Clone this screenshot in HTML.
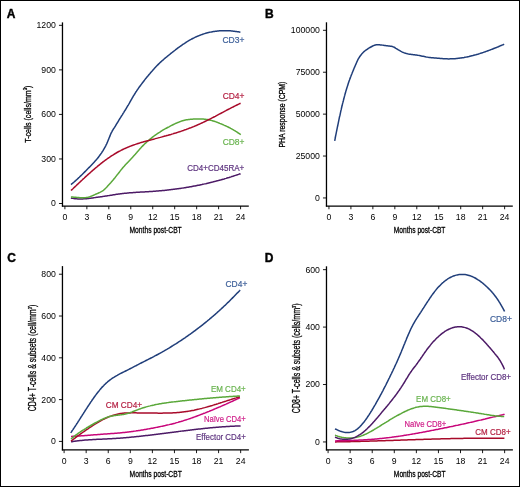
<!DOCTYPE html>
<html><head><meta charset="utf-8"><style>
html,body{margin:0;padding:0;background:#fff;}
svg{display:block;font-family:"Liberation Sans", sans-serif;will-change:transform;}
.t{font-weight:normal;stroke:#000;stroke-width:0.3px;}
</style></head><body>
<svg width="520" height="487" viewBox="0 0 520 487">
<rect x="0.5" y="0.5" width="519" height="486" fill="#fff" stroke="#000" stroke-width="1"/>
<line x1="62.47" y1="22.37" x2="62.47" y2="206.60" stroke="#000" stroke-width="1.3"/>
<line x1="61.92" y1="206.05" x2="248.80" y2="206.05" stroke="#000" stroke-width="1.3"/>
<line x1="64.90" y1="206.05" x2="64.90" y2="209.25" stroke="#000" stroke-width="0.9"/>
<text x="64.90" y="219.85" font-size="8.7" text-anchor="middle" fill="#000" >0</text>
<line x1="86.86" y1="206.05" x2="86.86" y2="209.25" stroke="#000" stroke-width="0.9"/>
<text x="86.86" y="219.85" font-size="8.7" text-anchor="middle" fill="#000" >3</text>
<line x1="108.82" y1="206.05" x2="108.82" y2="209.25" stroke="#000" stroke-width="0.9"/>
<text x="108.82" y="219.85" font-size="8.7" text-anchor="middle" fill="#000" >6</text>
<line x1="130.78" y1="206.05" x2="130.78" y2="209.25" stroke="#000" stroke-width="0.9"/>
<text x="130.78" y="219.85" font-size="8.7" text-anchor="middle" fill="#000" >9</text>
<line x1="152.74" y1="206.05" x2="152.74" y2="209.25" stroke="#000" stroke-width="0.9"/>
<text x="152.74" y="219.85" font-size="8.7" text-anchor="middle" fill="#000" >12</text>
<line x1="174.70" y1="206.05" x2="174.70" y2="209.25" stroke="#000" stroke-width="0.9"/>
<text x="174.70" y="219.85" font-size="8.7" text-anchor="middle" fill="#000" >15</text>
<line x1="196.66" y1="206.05" x2="196.66" y2="209.25" stroke="#000" stroke-width="0.9"/>
<text x="196.66" y="219.85" font-size="8.7" text-anchor="middle" fill="#000" >18</text>
<line x1="218.62" y1="206.05" x2="218.62" y2="209.25" stroke="#000" stroke-width="0.9"/>
<text x="218.62" y="219.85" font-size="8.7" text-anchor="middle" fill="#000" >21</text>
<line x1="240.58" y1="206.05" x2="240.58" y2="209.25" stroke="#000" stroke-width="0.9"/>
<text x="240.58" y="219.85" font-size="8.7" text-anchor="middle" fill="#000" >24</text>
<line x1="58.97" y1="203.50" x2="62.47" y2="203.50" stroke="#000" stroke-width="0.9"/>
<text x="55.87" y="206.40" font-size="8.7" text-anchor="end" fill="#000" >0</text>
<line x1="58.97" y1="158.96" x2="62.47" y2="158.96" stroke="#000" stroke-width="0.9"/>
<text x="55.87" y="161.86" font-size="8.7" text-anchor="end" fill="#000" >300</text>
<line x1="58.97" y1="114.42" x2="62.47" y2="114.42" stroke="#000" stroke-width="0.9"/>
<text x="55.87" y="117.32" font-size="8.7" text-anchor="end" fill="#000" >600</text>
<line x1="58.97" y1="69.88" x2="62.47" y2="69.88" stroke="#000" stroke-width="0.9"/>
<text x="55.87" y="72.78" font-size="8.7" text-anchor="end" fill="#000" >900</text>
<line x1="58.97" y1="25.34" x2="62.47" y2="25.34" stroke="#000" stroke-width="0.9"/>
<text x="55.87" y="28.24" font-size="8.7" text-anchor="end" fill="#000" >1200</text>
<text transform="translate(30.5,114.2) rotate(-90) scale(0.7748,1)" x="0" y="0" font-size="9.1" text-anchor="middle" class="t">T-cells (cells/mm<tspan font-size="5.5" dy="-3.2">3</tspan><tspan dy="3.2">)</tspan></text>
<text transform="translate(155.63,232.7) scale(0.7147,1)" x="0" y="0" font-size="9.4" text-anchor="middle" class="t">Months post-CBT</text>
<text x="6.8" y="17.7" font-size="12" font-weight="bold" stroke="#000" stroke-width="0.4">A</text>
<line x1="326.47" y1="22.30" x2="326.47" y2="206.60" stroke="#000" stroke-width="1.3"/>
<line x1="325.92" y1="206.05" x2="512.80" y2="206.05" stroke="#000" stroke-width="1.3"/>
<line x1="328.95" y1="206.05" x2="328.95" y2="209.25" stroke="#000" stroke-width="0.9"/>
<text x="328.95" y="219.85" font-size="8.7" text-anchor="middle" fill="#000" >0</text>
<line x1="350.91" y1="206.05" x2="350.91" y2="209.25" stroke="#000" stroke-width="0.9"/>
<text x="350.91" y="219.85" font-size="8.7" text-anchor="middle" fill="#000" >3</text>
<line x1="372.87" y1="206.05" x2="372.87" y2="209.25" stroke="#000" stroke-width="0.9"/>
<text x="372.87" y="219.85" font-size="8.7" text-anchor="middle" fill="#000" >6</text>
<line x1="394.83" y1="206.05" x2="394.83" y2="209.25" stroke="#000" stroke-width="0.9"/>
<text x="394.83" y="219.85" font-size="8.7" text-anchor="middle" fill="#000" >9</text>
<line x1="416.79" y1="206.05" x2="416.79" y2="209.25" stroke="#000" stroke-width="0.9"/>
<text x="416.79" y="219.85" font-size="8.7" text-anchor="middle" fill="#000" >12</text>
<line x1="438.75" y1="206.05" x2="438.75" y2="209.25" stroke="#000" stroke-width="0.9"/>
<text x="438.75" y="219.85" font-size="8.7" text-anchor="middle" fill="#000" >15</text>
<line x1="460.71" y1="206.05" x2="460.71" y2="209.25" stroke="#000" stroke-width="0.9"/>
<text x="460.71" y="219.85" font-size="8.7" text-anchor="middle" fill="#000" >18</text>
<line x1="482.67" y1="206.05" x2="482.67" y2="209.25" stroke="#000" stroke-width="0.9"/>
<text x="482.67" y="219.85" font-size="8.7" text-anchor="middle" fill="#000" >21</text>
<line x1="504.63" y1="206.05" x2="504.63" y2="209.25" stroke="#000" stroke-width="0.9"/>
<text x="504.63" y="219.85" font-size="8.7" text-anchor="middle" fill="#000" >24</text>
<line x1="322.97" y1="197.95" x2="326.47" y2="197.95" stroke="#000" stroke-width="0.9"/>
<text x="319.87" y="200.85" font-size="8.7" text-anchor="end" fill="#000" >0</text>
<line x1="322.97" y1="156.04" x2="326.47" y2="156.04" stroke="#000" stroke-width="0.9"/>
<text x="319.87" y="158.94" font-size="8.7" text-anchor="end" fill="#000" >25000</text>
<line x1="322.97" y1="114.13" x2="326.47" y2="114.13" stroke="#000" stroke-width="0.9"/>
<text x="319.87" y="117.03" font-size="8.7" text-anchor="end" fill="#000" >50000</text>
<line x1="322.97" y1="72.22" x2="326.47" y2="72.22" stroke="#000" stroke-width="0.9"/>
<text x="319.87" y="75.12" font-size="8.7" text-anchor="end" fill="#000" >75000</text>
<line x1="322.97" y1="30.31" x2="326.47" y2="30.31" stroke="#000" stroke-width="0.9"/>
<text x="319.87" y="33.21" font-size="8.7" text-anchor="end" fill="#000" >100000</text>
<text transform="translate(284.9,114.6) rotate(-90) scale(0.8015,1)" x="0" y="0" font-size="8.6" text-anchor="middle" class="t">PHA response (CPM)</text>
<text transform="translate(419.63,232.7) scale(0.7064,1)" x="0" y="0" font-size="9.4" text-anchor="middle" class="t">Months post-CBT</text>
<text x="265.0" y="17.6" font-size="12" font-weight="bold" stroke="#000" stroke-width="0.4">B</text>
<line x1="62.45" y1="266.10" x2="62.45" y2="450.50" stroke="#000" stroke-width="1.3"/>
<line x1="61.90" y1="449.95" x2="248.90" y2="449.95" stroke="#000" stroke-width="1.3"/>
<line x1="64.10" y1="449.95" x2="64.10" y2="453.15" stroke="#000" stroke-width="0.9"/>
<text x="64.10" y="463.75" font-size="8.7" text-anchor="middle" fill="#000" >0</text>
<line x1="86.17" y1="449.95" x2="86.17" y2="453.15" stroke="#000" stroke-width="0.9"/>
<text x="86.17" y="463.75" font-size="8.7" text-anchor="middle" fill="#000" >3</text>
<line x1="108.24" y1="449.95" x2="108.24" y2="453.15" stroke="#000" stroke-width="0.9"/>
<text x="108.24" y="463.75" font-size="8.7" text-anchor="middle" fill="#000" >6</text>
<line x1="130.31" y1="449.95" x2="130.31" y2="453.15" stroke="#000" stroke-width="0.9"/>
<text x="130.31" y="463.75" font-size="8.7" text-anchor="middle" fill="#000" >9</text>
<line x1="152.38" y1="449.95" x2="152.38" y2="453.15" stroke="#000" stroke-width="0.9"/>
<text x="152.38" y="463.75" font-size="8.7" text-anchor="middle" fill="#000" >12</text>
<line x1="174.45" y1="449.95" x2="174.45" y2="453.15" stroke="#000" stroke-width="0.9"/>
<text x="174.45" y="463.75" font-size="8.7" text-anchor="middle" fill="#000" >15</text>
<line x1="196.52" y1="449.95" x2="196.52" y2="453.15" stroke="#000" stroke-width="0.9"/>
<text x="196.52" y="463.75" font-size="8.7" text-anchor="middle" fill="#000" >18</text>
<line x1="218.59" y1="449.95" x2="218.59" y2="453.15" stroke="#000" stroke-width="0.9"/>
<text x="218.59" y="463.75" font-size="8.7" text-anchor="middle" fill="#000" >21</text>
<line x1="240.66" y1="449.95" x2="240.66" y2="453.15" stroke="#000" stroke-width="0.9"/>
<text x="240.66" y="463.75" font-size="8.7" text-anchor="middle" fill="#000" >24</text>
<line x1="58.95" y1="441.42" x2="62.45" y2="441.42" stroke="#000" stroke-width="0.9"/>
<text x="55.85" y="444.32" font-size="8.7" text-anchor="end" fill="#000" >0</text>
<line x1="58.95" y1="399.62" x2="62.45" y2="399.62" stroke="#000" stroke-width="0.9"/>
<text x="55.85" y="402.52" font-size="8.7" text-anchor="end" fill="#000" >200</text>
<line x1="58.95" y1="357.82" x2="62.45" y2="357.82" stroke="#000" stroke-width="0.9"/>
<text x="55.85" y="360.72" font-size="8.7" text-anchor="end" fill="#000" >400</text>
<line x1="58.95" y1="316.02" x2="62.45" y2="316.02" stroke="#000" stroke-width="0.9"/>
<text x="55.85" y="318.92" font-size="8.7" text-anchor="end" fill="#000" >600</text>
<line x1="58.95" y1="274.22" x2="62.45" y2="274.22" stroke="#000" stroke-width="0.9"/>
<text x="55.85" y="277.12" font-size="8.7" text-anchor="end" fill="#000" >800</text>
<text transform="translate(35.5,358.0) rotate(-90) scale(0.7068,1)" x="0" y="0" font-size="10" text-anchor="middle" class="t">CD4+ T-cells &amp; subsets (cell/mm<tspan font-size="5.5" dy="-3.2">3</tspan><tspan dy="3.2">)</tspan></text>
<text transform="translate(155.68,476.7) scale(0.7161,1)" x="0" y="0" font-size="9.4" text-anchor="middle" class="t">Months post-CBT</text>
<text x="7.2" y="262.3" font-size="12" font-weight="bold" stroke="#000" stroke-width="0.4">C</text>
<line x1="326.48" y1="266.30" x2="326.48" y2="450.51" stroke="#000" stroke-width="1.3"/>
<line x1="325.93" y1="449.96" x2="512.90" y2="449.96" stroke="#000" stroke-width="1.3"/>
<line x1="328.08" y1="449.96" x2="328.08" y2="453.16" stroke="#000" stroke-width="0.9"/>
<text x="328.08" y="463.76" font-size="8.7" text-anchor="middle" fill="#000" >0</text>
<line x1="350.15" y1="449.96" x2="350.15" y2="453.16" stroke="#000" stroke-width="0.9"/>
<text x="350.15" y="463.76" font-size="8.7" text-anchor="middle" fill="#000" >3</text>
<line x1="372.22" y1="449.96" x2="372.22" y2="453.16" stroke="#000" stroke-width="0.9"/>
<text x="372.22" y="463.76" font-size="8.7" text-anchor="middle" fill="#000" >6</text>
<line x1="394.29" y1="449.96" x2="394.29" y2="453.16" stroke="#000" stroke-width="0.9"/>
<text x="394.29" y="463.76" font-size="8.7" text-anchor="middle" fill="#000" >9</text>
<line x1="416.36" y1="449.96" x2="416.36" y2="453.16" stroke="#000" stroke-width="0.9"/>
<text x="416.36" y="463.76" font-size="8.7" text-anchor="middle" fill="#000" >12</text>
<line x1="438.43" y1="449.96" x2="438.43" y2="453.16" stroke="#000" stroke-width="0.9"/>
<text x="438.43" y="463.76" font-size="8.7" text-anchor="middle" fill="#000" >15</text>
<line x1="460.50" y1="449.96" x2="460.50" y2="453.16" stroke="#000" stroke-width="0.9"/>
<text x="460.50" y="463.76" font-size="8.7" text-anchor="middle" fill="#000" >18</text>
<line x1="482.57" y1="449.96" x2="482.57" y2="453.16" stroke="#000" stroke-width="0.9"/>
<text x="482.57" y="463.76" font-size="8.7" text-anchor="middle" fill="#000" >21</text>
<line x1="504.64" y1="449.96" x2="504.64" y2="453.16" stroke="#000" stroke-width="0.9"/>
<text x="504.64" y="463.76" font-size="8.7" text-anchor="middle" fill="#000" >24</text>
<line x1="322.98" y1="441.95" x2="326.48" y2="441.95" stroke="#000" stroke-width="0.9"/>
<text x="319.88" y="444.85" font-size="8.7" text-anchor="end" fill="#000" >0</text>
<line x1="322.98" y1="384.52" x2="326.48" y2="384.52" stroke="#000" stroke-width="0.9"/>
<text x="319.88" y="387.42" font-size="8.7" text-anchor="end" fill="#000" >200</text>
<line x1="322.98" y1="327.09" x2="326.48" y2="327.09" stroke="#000" stroke-width="0.9"/>
<text x="319.88" y="329.99" font-size="8.7" text-anchor="end" fill="#000" >400</text>
<line x1="322.98" y1="269.66" x2="326.48" y2="269.66" stroke="#000" stroke-width="0.9"/>
<text x="319.88" y="272.56" font-size="8.7" text-anchor="end" fill="#000" >600</text>
<text transform="translate(299.5,358.3) rotate(-90) scale(0.7034,1)" x="0" y="0" font-size="10" text-anchor="middle" class="t">CD8+ T-cells &amp; subsets (cells/mm<tspan font-size="5.5" dy="-3.2">3</tspan><tspan dy="3.2">)</tspan></text>
<text transform="translate(419.69,476.6) scale(0.7078,1)" x="0" y="0" font-size="9.4" text-anchor="middle" class="t">Months post-CBT</text>
<text x="264.8" y="261.9" font-size="12" font-weight="bold" stroke="#000" stroke-width="0.4">D</text>
<path d="M70.9 197.98 L71.9 198.19 L72.9 198.37 L73.8 198.53 L74.8 198.66 L75.8 198.77 L76.8 198.85 L77.8 198.91 L78.8 198.95 L79.8 198.97 L80.8 198.97 L81.8 198.95 L82.8 198.92 L83.8 198.86 L84.8 198.80 L85.8 198.72 L86.8 198.63 L87.8 198.53 L88.8 198.42 L89.8 198.30 L90.8 198.17 L91.8 198.04 L92.8 197.90 L93.8 197.76 L94.7 197.62 L95.7 197.48 L96.7 197.34 L97.7 197.20 L98.7 197.06 L99.7 196.92 L100.7 196.78 L101.7 196.64 L102.7 196.50 L103.7 196.36 L104.6 196.21 L105.6 196.07 L106.6 195.92 L107.6 195.77 L108.6 195.62 L109.6 195.47 L110.6 195.31 L111.6 195.14 L112.5 194.98 L113.5 194.81 L114.5 194.65 L115.5 194.49 L116.5 194.34 L117.5 194.19 L118.5 194.05 L119.5 193.92 L120.5 193.79 L121.4 193.67 L122.4 193.55 L123.4 193.44 L124.4 193.34 L125.4 193.23 L126.4 193.14 L127.4 193.05 L128.4 192.96 L129.4 192.87 L130.4 192.79 L131.4 192.71 L132.4 192.64 L133.4 192.57 L134.4 192.50 L135.4 192.43 L136.4 192.36 L137.4 192.30 L138.4 192.24 L139.4 192.18 L140.4 192.12 L141.4 192.06 L142.4 192.00 L143.4 191.94 L144.4 191.89 L145.4 191.83 L146.4 191.77 L147.4 191.71 L148.4 191.65 L149.4 191.59 L150.4 191.52 L151.4 191.46 L152.4 191.39 L153.4 191.32 L154.4 191.25 L155.3 191.17 L156.3 191.09 L157.3 191.01 L158.3 190.93 L159.3 190.84 L160.3 190.76 L161.3 190.66 L162.3 190.57 L163.3 190.47 L164.3 190.38 L165.3 190.27 L166.3 190.17 L167.3 190.06 L168.3 189.95 L169.3 189.84 L170.3 189.73 L171.3 189.61 L172.3 189.49 L173.3 189.36 L174.3 189.24 L175.2 189.11 L176.2 188.98 L177.2 188.84 L178.2 188.70 L179.2 188.56 L180.2 188.42 L181.2 188.27 L182.2 188.13 L183.2 187.97 L184.2 187.82 L185.1 187.66 L186.1 187.50 L187.1 187.34 L188.1 187.17 L189.1 187.00 L190.1 186.83 L191.1 186.66 L192.0 186.48 L193.0 186.30 L194.0 186.11 L195.0 185.93 L196.0 185.74 L197.0 185.54 L197.9 185.35 L198.9 185.15 L199.9 184.95 L200.9 184.74 L201.9 184.53 L202.8 184.32 L203.8 184.11 L204.8 183.89 L205.8 183.67 L206.7 183.45 L207.7 183.22 L208.7 183.00 L209.7 182.76 L210.6 182.53 L211.6 182.29 L212.6 182.05 L213.5 181.81 L214.5 181.56 L215.5 181.31 L216.4 181.05 L217.4 180.80 L218.4 180.54 L219.3 180.28 L220.3 180.01 L221.3 179.74 L222.2 179.47 L223.2 179.19 L224.2 178.92 L225.1 178.64 L226.1 178.35 L227.0 178.06 L228.0 177.77 L229.0 177.48 L229.9 177.18 L230.9 176.88 L231.8 176.58 L232.8 176.28 L233.7 175.97 L234.7 175.65 L235.6 175.34 L236.6 175.02 L237.5 174.70 L238.5 174.38 L239.4 174.05 L240.4 173.72 L240.4 173.70" fill="none" stroke="#4c1a66" stroke-width="1.5" stroke-linejoin="round"/>
<path d="M70.9 196.91 L71.9 196.97 L72.9 197.06 L73.9 197.15 L74.9 197.24 L75.9 197.34 L76.9 197.44 L77.9 197.53 L78.9 197.61 L79.9 197.67 L80.9 197.72 L81.9 197.74 L82.9 197.75 L83.9 197.72 L84.9 197.65 L85.9 197.55 L86.9 197.41 L87.8 197.23 L88.8 196.99 L89.8 196.72 L90.7 196.39 L91.7 196.03 L92.6 195.63 L93.5 195.23 L94.4 194.81 L95.3 194.39 L96.2 193.98 L97.2 193.58 L98.1 193.20 L99.0 192.81 L99.9 192.40 L100.8 191.95 L101.7 191.45 L102.6 190.89 L103.4 190.28 L104.2 189.62 L104.9 188.93 L105.6 188.23 L106.4 187.51 L107.1 186.78 L107.7 186.06 L108.4 185.32 L109.1 184.59 L109.8 183.85 L110.5 183.10 L111.1 182.35 L111.8 181.59 L112.4 180.82 L113.1 180.05 L113.7 179.27 L114.3 178.49 L115.0 177.71 L115.6 176.92 L116.2 176.13 L116.8 175.34 L117.4 174.55 L118.1 173.76 L118.7 172.97 L119.3 172.18 L119.9 171.40 L120.5 170.62 L121.1 169.84 L121.8 169.07 L122.4 168.31 L123.0 167.55 L123.7 166.80 L124.4 166.05 L125.0 165.31 L125.7 164.58 L126.4 163.85 L127.1 163.12 L127.7 162.40 L128.4 161.67 L129.1 160.95 L129.8 160.23 L130.5 159.50 L131.2 158.78 L131.9 158.05 L132.6 157.31 L133.2 156.58 L133.9 155.83 L134.6 155.09 L135.3 154.33 L135.9 153.57 L136.6 152.81 L137.2 152.05 L137.9 151.29 L138.5 150.54 L139.2 149.78 L139.8 149.03 L140.5 148.29 L141.2 147.55 L141.8 146.83 L142.5 146.11 L143.2 145.39 L143.9 144.69 L144.6 143.99 L145.3 143.31 L146.1 142.62 L146.8 141.95 L147.5 141.29 L148.3 140.63 L149.0 139.98 L149.8 139.34 L150.6 138.71 L151.4 138.08 L152.1 137.47 L152.9 136.86 L153.7 136.26 L154.5 135.67 L155.3 135.08 L156.1 134.51 L157.0 133.94 L157.8 133.38 L158.6 132.83 L159.5 132.29 L160.3 131.76 L161.1 131.23 L162.0 130.71 L162.8 130.20 L163.7 129.69 L164.6 129.20 L165.4 128.70 L166.3 128.22 L167.2 127.74 L168.1 127.27 L169.0 126.80 L169.8 126.34 L170.7 125.88 L171.6 125.43 L172.5 124.98 L173.4 124.54 L174.3 124.10 L175.2 123.67 L176.1 123.26 L177.0 122.85 L177.9 122.46 L178.9 122.08 L179.8 121.72 L180.7 121.38 L181.7 121.06 L182.6 120.77 L183.6 120.49 L184.5 120.25 L185.5 120.03 L186.5 119.84 L187.5 119.67 L188.5 119.52 L189.5 119.40 L190.4 119.29 L191.4 119.21 L192.4 119.13 L193.4 119.08 L194.4 119.03 L195.4 118.99 L196.4 118.96 L197.4 118.94 L198.4 118.93 L199.4 118.93 L200.4 118.94 L201.4 118.97 L202.4 119.01 L203.4 119.08 L204.4 119.16 L205.4 119.26 L206.4 119.39 L207.4 119.54 L208.4 119.72 L209.4 119.92 L210.4 120.15 L211.3 120.40 L212.3 120.67 L213.2 120.95 L214.2 121.26 L215.2 121.58 L216.1 121.91 L217.0 122.25 L218.0 122.61 L218.9 122.97 L219.8 123.35 L220.8 123.73 L221.7 124.11 L222.6 124.51 L223.5 124.91 L224.4 125.32 L225.4 125.74 L226.3 126.16 L227.2 126.60 L228.1 127.04 L229.0 127.49 L229.9 127.95 L230.7 128.42 L231.6 128.90 L232.5 129.39 L233.4 129.88 L234.2 130.39 L235.1 130.91 L235.9 131.43 L236.8 131.97 L237.6 132.51 L238.5 133.06 L239.3 133.63 L240.1 134.20 L240.8 134.67" fill="none" stroke="#5aa83a" stroke-width="1.5" stroke-linejoin="round"/>
<path d="M71.0 190.59 L71.7 189.90 L72.4 189.20 L73.2 188.51 L73.9 187.82 L74.6 187.13 L75.3 186.44 L76.1 185.75 L76.8 185.06 L77.5 184.37 L78.2 183.68 L78.9 182.99 L79.7 182.31 L80.4 181.62 L81.1 180.94 L81.9 180.25 L82.6 179.57 L83.3 178.89 L84.1 178.21 L84.8 177.53 L85.5 176.86 L86.3 176.18 L87.0 175.51 L87.7 174.84 L88.5 174.17 L89.2 173.50 L90.0 172.84 L90.7 172.17 L91.5 171.51 L92.2 170.86 L93.0 170.20 L93.7 169.55 L94.5 168.90 L95.2 168.25 L96.0 167.61 L96.8 166.97 L97.5 166.33 L98.3 165.69 L99.1 165.06 L99.9 164.44 L100.6 163.81 L101.4 163.20 L102.2 162.58 L103.0 161.97 L103.8 161.37 L104.6 160.77 L105.4 160.17 L106.2 159.58 L107.0 159.00 L107.8 158.42 L108.6 157.84 L109.5 157.28 L110.3 156.72 L111.1 156.16 L111.9 155.62 L112.8 155.08 L113.6 154.54 L114.5 154.02 L115.3 153.50 L116.2 153.00 L117.0 152.50 L117.9 152.01 L118.8 151.53 L119.7 151.06 L120.6 150.60 L121.4 150.15 L122.3 149.71 L123.2 149.27 L124.1 148.85 L125.0 148.43 L126.0 148.03 L126.9 147.63 L127.8 147.24 L128.7 146.86 L129.6 146.49 L130.6 146.12 L131.5 145.77 L132.4 145.42 L133.4 145.08 L134.3 144.74 L135.3 144.41 L136.2 144.09 L137.2 143.78 L138.1 143.47 L139.1 143.17 L140.0 142.88 L141.0 142.59 L141.9 142.30 L142.9 142.02 L143.8 141.74 L144.8 141.47 L145.8 141.20 L146.7 140.94 L147.7 140.68 L148.7 140.42 L149.6 140.16 L150.6 139.90 L151.6 139.65 L152.5 139.40 L153.5 139.15 L154.5 138.90 L155.4 138.65 L156.4 138.39 L157.4 138.14 L158.3 137.89 L159.3 137.64 L160.3 137.38 L161.2 137.12 L162.2 136.86 L163.2 136.60 L164.1 136.34 L165.1 136.07 L166.1 135.80 L167.0 135.53 L168.0 135.26 L168.9 134.98 L169.9 134.70 L170.9 134.42 L171.8 134.14 L172.8 133.85 L173.7 133.56 L174.7 133.27 L175.7 132.97 L176.6 132.67 L177.6 132.36 L178.5 132.06 L179.5 131.75 L180.4 131.43 L181.4 131.11 L182.3 130.79 L183.3 130.46 L184.2 130.13 L185.1 129.80 L186.1 129.46 L187.0 129.12 L188.0 128.77 L188.9 128.42 L189.8 128.06 L190.8 127.70 L191.7 127.34 L192.6 126.97 L193.6 126.59 L194.5 126.21 L195.4 125.83 L196.3 125.44 L197.3 125.05 L198.2 124.65 L199.1 124.24 L200.0 123.84 L200.9 123.42 L201.8 123.00 L202.7 122.58 L203.6 122.15 L204.5 121.72 L205.4 121.29 L206.3 120.85 L207.2 120.40 L208.1 119.96 L209.0 119.51 L209.9 119.05 L210.8 118.60 L211.7 118.14 L212.6 117.68 L213.5 117.22 L214.4 116.76 L215.3 116.29 L216.1 115.83 L217.0 115.36 L217.9 114.89 L218.8 114.42 L219.7 113.95 L220.6 113.48 L221.4 113.02 L222.3 112.55 L223.2 112.08 L224.1 111.61 L225.0 111.14 L225.9 110.67 L226.7 110.21 L227.6 109.74 L228.5 109.28 L229.4 108.82 L230.3 108.36 L231.2 107.90 L232.1 107.44 L233.0 106.99 L233.8 106.54 L234.7 106.09 L235.6 105.65 L236.5 105.21 L237.4 104.77 L238.3 104.34 L239.2 103.91 L240.1 103.48 L240.6 103.27" fill="none" stroke="#a80a2a" stroke-width="1.5" stroke-linejoin="round"/>
<path d="M71.0 184.56 L71.8 183.92 L72.6 183.28 L73.3 182.63 L74.1 181.98 L74.8 181.32 L75.6 180.65 L76.3 179.98 L77.1 179.31 L77.8 178.63 L78.5 177.94 L79.3 177.26 L80.0 176.57 L80.7 175.87 L81.4 175.17 L82.2 174.47 L82.9 173.77 L83.6 173.07 L84.3 172.36 L85.0 171.65 L85.7 170.94 L86.4 170.23 L87.1 169.52 L87.8 168.80 L88.5 168.09 L89.2 167.37 L89.9 166.65 L90.6 165.94 L91.3 165.22 L92.0 164.49 L92.7 163.77 L93.4 163.04 L94.1 162.30 L94.7 161.55 L95.4 160.80 L96.1 160.05 L96.7 159.28 L97.4 158.50 L98.0 157.72 L98.6 156.93 L99.2 156.13 L99.8 155.32 L100.4 154.50 L101.0 153.67 L101.6 152.84 L102.1 151.99 L102.7 151.14 L103.2 150.29 L103.7 149.42 L104.2 148.55 L104.7 147.66 L105.2 146.77 L105.7 145.86 L106.1 144.95 L106.6 144.03 L107.0 143.11 L107.4 142.17 L107.8 141.24 L108.2 140.30 L108.6 139.37 L108.9 138.44 L109.3 137.51 L109.7 136.59 L110.1 135.67 L110.4 134.76 L110.8 133.86 L111.2 132.98 L111.7 132.11 L112.1 131.25 L112.6 130.40 L113.1 129.57 L113.6 128.73 L114.2 127.90 L114.7 127.06 L115.3 126.20 L115.8 125.34 L116.3 124.49 L116.8 123.63 L117.4 122.77 L117.9 121.91 L118.4 121.05 L118.9 120.20 L119.4 119.35 L119.9 118.50 L120.5 117.65 L121.0 116.81 L121.5 115.96 L122.1 115.12 L122.6 114.27 L123.1 113.43 L123.7 112.58 L124.2 111.74 L124.7 110.89 L125.3 110.04 L125.8 109.18 L126.3 108.32 L126.8 107.46 L127.3 106.60 L127.8 105.73 L128.4 104.87 L128.9 104.00 L129.4 103.13 L129.8 102.26 L130.3 101.39 L130.8 100.52 L131.3 99.65 L131.8 98.78 L132.3 97.92 L132.8 97.06 L133.3 96.20 L133.8 95.35 L134.4 94.50 L134.9 93.65 L135.4 92.81 L135.9 91.97 L136.5 91.14 L137.0 90.32 L137.6 89.49 L138.2 88.67 L138.7 87.86 L139.3 87.05 L139.9 86.24 L140.5 85.44 L141.1 84.64 L141.7 83.85 L142.3 83.05 L142.9 82.26 L143.5 81.48 L144.1 80.69 L144.7 79.91 L145.3 79.12 L146.0 78.34 L146.6 77.57 L147.2 76.79 L147.9 76.02 L148.5 75.24 L149.1 74.48 L149.8 73.71 L150.4 72.95 L151.0 72.19 L151.7 71.44 L152.4 70.68 L153.0 69.94 L153.7 69.20 L154.3 68.46 L155.0 67.72 L155.7 67.00 L156.4 66.28 L157.1 65.56 L157.8 64.85 L158.5 64.15 L159.2 63.45 L159.9 62.77 L160.6 62.09 L161.4 61.41 L162.1 60.75 L162.9 60.09 L163.6 59.43 L164.4 58.78 L165.1 58.14 L165.9 57.50 L166.7 56.86 L167.4 56.23 L168.2 55.60 L169.0 54.97 L169.8 54.34 L170.5 53.71 L171.3 53.09 L172.1 52.47 L172.9 51.85 L173.7 51.23 L174.5 50.62 L175.3 50.01 L176.0 49.40 L176.8 48.80 L177.6 48.20 L178.4 47.61 L179.2 47.02 L180.1 46.43 L180.9 45.85 L181.7 45.28 L182.5 44.71 L183.3 44.15 L184.2 43.59 L185.0 43.05 L185.8 42.50 L186.7 41.97 L187.5 41.45 L188.4 40.93 L189.2 40.42 L190.1 39.93 L191.0 39.44 L191.8 38.97 L192.7 38.50 L193.6 38.05 L194.5 37.61 L195.4 37.18 L196.3 36.76 L197.2 36.36 L198.1 35.97 L199.1 35.59 L200.0 35.23 L200.9 34.87 L201.9 34.54 L202.8 34.21 L203.7 33.90 L204.7 33.60 L205.7 33.32 L206.6 33.05 L207.6 32.80 L208.6 32.55 L209.5 32.33 L210.5 32.12 L211.5 31.92 L212.5 31.74 L213.4 31.57 L214.4 31.41 L215.4 31.28 L216.4 31.15 L217.4 31.04 L218.4 30.94 L219.4 30.86 L220.4 30.79 L221.4 30.74 L222.4 30.70 L223.4 30.68 L224.4 30.66 L225.4 30.67 L226.4 30.68 L227.4 30.71 L228.4 30.75 L229.4 30.80 L230.4 30.87 L231.4 30.95 L232.4 31.04 L233.4 31.14 L234.4 31.26 L235.4 31.39 L236.4 31.53 L237.3 31.67 L238.3 31.83 L239.3 32.01 L240.3 32.19 L240.4 32.21" fill="none" stroke="#203e7a" stroke-width="1.5" stroke-linejoin="round"/>
<text x="222.45" y="42.70" font-size="8.7" fill="#3d5f99" stroke="#3d5f99" stroke-width="0.2" textLength="21.95" lengthAdjust="spacingAndGlyphs">CD3+</text>
<text x="222.65" y="99.00" font-size="8.7" fill="#b52345" stroke="#b52345" stroke-width="0.2" textLength="21.85" lengthAdjust="spacingAndGlyphs">CD4+</text>
<text x="222.65" y="144.90" font-size="8.7" fill="#6ab450" stroke="#6ab450" stroke-width="0.2" textLength="21.85" lengthAdjust="spacingAndGlyphs">CD8+</text>
<text x="187.15" y="171.00" font-size="8.7" fill="#5f3580" stroke="#5f3580" stroke-width="0.2" textLength="57.15" lengthAdjust="spacingAndGlyphs">CD4+CD45RA+</text>
<path d="M334.7 140.91 L334.9 139.93 L335.1 138.95 L335.3 137.97 L335.4 136.99 L335.6 136.01 L335.8 135.04 L336.0 134.06 L336.2 133.08 L336.4 132.10 L336.6 131.12 L336.8 130.14 L337.0 129.16 L337.2 128.19 L337.4 127.21 L337.6 126.23 L337.8 125.26 L338.0 124.28 L338.2 123.30 L338.4 122.33 L338.6 121.35 L338.8 120.38 L339.0 119.40 L339.2 118.43 L339.4 117.45 L339.6 116.48 L339.9 115.50 L340.1 114.53 L340.3 113.56 L340.5 112.59 L340.7 111.62 L340.9 110.64 L341.2 109.67 L341.4 108.70 L341.6 107.73 L341.8 106.77 L342.1 105.80 L342.3 104.83 L342.5 103.86 L342.8 102.90 L343.0 101.93 L343.3 100.96 L343.5 100.00 L343.8 99.04 L344.0 98.07 L344.3 97.11 L344.5 96.15 L344.8 95.19 L345.0 94.23 L345.3 93.28 L345.6 92.32 L345.8 91.37 L346.1 90.41 L346.4 89.46 L346.7 88.51 L347.0 87.56 L347.3 86.62 L347.6 85.67 L347.9 84.73 L348.2 83.79 L348.5 82.85 L348.8 81.91 L349.1 80.97 L349.5 80.04 L349.8 79.10 L350.2 78.17 L350.5 77.24 L350.9 76.32 L351.2 75.39 L351.6 74.46 L352.0 73.54 L352.3 72.62 L352.7 71.70 L353.1 70.78 L353.5 69.86 L353.8 68.94 L354.2 68.02 L354.6 67.10 L355.0 66.18 L355.4 65.26 L355.8 64.34 L356.2 63.43 L356.6 62.52 L357.0 61.62 L357.4 60.73 L357.8 59.85 L358.3 58.99 L358.8 58.14 L359.3 57.31 L359.8 56.49 L360.4 55.69 L361.0 54.92 L361.6 54.16 L362.2 53.43 L362.9 52.72 L363.6 52.04 L364.3 51.38 L365.1 50.75 L365.9 50.15 L366.7 49.57 L367.5 49.02 L368.3 48.49 L369.2 47.97 L370.0 47.47 L370.9 46.97 L371.8 46.48 L372.7 46.02 L373.5 45.60 L374.5 45.25 L375.4 44.98 L376.4 44.82 L377.4 44.75 L378.4 44.75 L379.4 44.81 L380.4 44.89 L381.4 45.00 L382.4 45.12 L383.4 45.25 L384.4 45.39 L385.3 45.53 L386.3 45.67 L387.3 45.81 L388.3 45.94 L389.3 46.05 L390.3 46.16 L391.3 46.31 L392.3 46.53 L393.2 46.84 L394.2 47.26 L395.1 47.76 L395.9 48.29 L396.8 48.84 L397.6 49.38 L398.4 49.91 L399.3 50.42 L400.2 50.92 L401.0 51.39 L401.9 51.84 L402.8 52.26 L403.7 52.65 L404.7 53.01 L405.6 53.33 L406.5 53.60 L407.5 53.84 L408.5 54.04 L409.5 54.21 L410.5 54.35 L411.5 54.48 L412.4 54.59 L413.4 54.70 L414.4 54.81 L415.4 54.92 L416.4 55.05 L417.4 55.20 L418.4 55.37 L419.4 55.55 L420.4 55.74 L421.3 55.94 L422.3 56.15 L423.3 56.35 L424.3 56.56 L425.3 56.76 L426.2 56.95 L427.2 57.13 L428.2 57.30 L429.2 57.44 L430.2 57.57 L431.2 57.68 L432.2 57.78 L433.2 57.87 L434.2 57.95 L435.2 58.02 L436.2 58.10 L437.2 58.17 L438.2 58.25 L439.2 58.33 L440.1 58.42 L441.1 58.50 L442.1 58.58 L443.1 58.66 L444.1 58.73 L445.1 58.78 L446.1 58.83 L447.1 58.86 L448.1 58.88 L449.1 58.88 L450.1 58.87 L451.1 58.85 L452.1 58.82 L453.1 58.77 L454.1 58.71 L455.1 58.64 L456.1 58.56 L457.1 58.46 L458.1 58.36 L459.1 58.24 L460.1 58.11 L461.1 57.97 L462.1 57.82 L463.1 57.67 L464.1 57.50 L465.0 57.32 L466.0 57.13 L467.0 56.93 L468.0 56.73 L469.0 56.51 L469.9 56.29 L470.9 56.05 L471.9 55.81 L472.9 55.57 L473.8 55.31 L474.8 55.05 L475.8 54.78 L476.7 54.50 L477.7 54.22 L478.6 53.93 L479.6 53.63 L480.5 53.33 L481.5 53.02 L482.4 52.70 L483.4 52.38 L484.3 52.06 L485.3 51.73 L486.2 51.39 L487.2 51.05 L488.1 50.71 L489.0 50.36 L490.0 50.01 L490.9 49.65 L491.9 49.29 L492.8 48.93 L493.7 48.56 L494.6 48.19 L495.6 47.82 L496.5 47.45 L497.4 47.07 L498.4 46.69 L499.3 46.31 L500.2 45.92 L501.1 45.54 L502.0 45.15 L503.0 44.76 L503.9 44.37 L504.2 44.24" fill="none" stroke="#203e7a" stroke-width="1.5" stroke-linejoin="round"/>
<path d="M71.0 441.80 L72.0 441.64 L73.0 441.49 L74.0 441.34 L75.0 441.20 L75.9 441.06 L76.9 440.94 L77.9 440.81 L78.9 440.70 L79.9 440.59 L80.9 440.48 L81.9 440.38 L82.9 440.29 L83.9 440.20 L84.9 440.12 L85.9 440.04 L86.9 439.96 L87.9 439.89 L88.9 439.82 L89.9 439.75 L90.9 439.69 L91.9 439.63 L92.9 439.57 L93.9 439.52 L94.9 439.47 L95.9 439.42 L96.9 439.37 L97.9 439.32 L98.9 439.27 L99.9 439.23 L100.9 439.18 L101.9 439.14 L102.9 439.09 L103.9 439.05 L104.9 439.00 L105.9 438.96 L106.9 438.91 L107.9 438.86 L108.9 438.81 L109.8 438.76 L110.8 438.71 L111.8 438.66 L112.8 438.60 L113.8 438.54 L114.8 438.48 L115.8 438.41 L116.8 438.35 L117.8 438.28 L118.8 438.20 L119.8 438.13 L120.8 438.06 L121.8 437.98 L122.8 437.90 L123.8 437.82 L124.8 437.73 L125.8 437.65 L126.8 437.56 L127.8 437.47 L128.8 437.38 L129.8 437.29 L130.8 437.19 L131.8 437.10 L132.8 437.00 L133.8 436.90 L134.8 436.80 L135.8 436.70 L136.8 436.60 L137.8 436.49 L138.8 436.38 L139.7 436.28 L140.7 436.17 L141.7 436.06 L142.7 435.95 L143.7 435.84 L144.7 435.72 L145.7 435.61 L146.7 435.49 L147.7 435.38 L148.7 435.26 L149.7 435.14 L150.7 435.02 L151.7 434.90 L152.7 434.78 L153.7 434.66 L154.6 434.54 L155.6 434.41 L156.6 434.29 L157.6 434.17 L158.6 434.04 L159.6 433.92 L160.6 433.79 L161.6 433.67 L162.6 433.54 L163.6 433.42 L164.6 433.29 L165.6 433.16 L166.5 433.03 L167.5 432.91 L168.5 432.78 L169.5 432.65 L170.5 432.53 L171.5 432.40 L172.5 432.27 L173.5 432.14 L174.5 432.02 L175.5 431.89 L176.5 431.76 L177.5 431.64 L178.5 431.51 L179.4 431.38 L180.4 431.26 L181.4 431.13 L182.4 431.01 L183.4 430.89 L184.4 430.76 L185.4 430.64 L186.4 430.52 L187.4 430.39 L188.4 430.27 L189.4 430.15 L190.4 430.03 L191.4 429.91 L192.3 429.80 L193.3 429.68 L194.3 429.56 L195.3 429.45 L196.3 429.33 L197.3 429.22 L198.3 429.11 L199.3 429.00 L200.3 428.89 L201.3 428.78 L202.3 428.67 L203.3 428.57 L204.3 428.46 L205.3 428.36 L206.3 428.26 L207.3 428.16 L208.3 428.06 L209.2 427.96 L210.2 427.87 L211.2 427.77 L212.2 427.68 L213.2 427.59 L214.2 427.50 L215.2 427.41 L216.2 427.33 L217.2 427.25 L218.2 427.16 L219.2 427.09 L220.2 427.01 L221.2 426.93 L222.2 426.86 L223.2 426.79 L224.2 426.72 L225.2 426.65 L226.2 426.59 L227.2 426.53 L228.2 426.47 L229.2 426.41 L230.2 426.36 L231.2 426.30 L232.2 426.25 L233.2 426.21 L234.2 426.16 L235.2 426.12 L236.2 426.08 L237.2 426.04 L238.2 426.01 L239.2 425.98 L240.2 425.95 L240.6 425.94" fill="none" stroke="#4c1a66" stroke-width="1.5" stroke-linejoin="round"/>
<path d="M71.0 436.45 L72.0 436.40 L73.0 436.35 L74.0 436.30 L75.0 436.24 L76.0 436.18 L77.0 436.12 L78.0 436.06 L79.0 435.99 L80.0 435.93 L81.0 435.86 L82.0 435.79 L83.0 435.72 L84.0 435.64 L85.0 435.57 L86.0 435.50 L87.0 435.42 L88.0 435.34 L89.0 435.26 L90.0 435.19 L91.0 435.11 L92.0 435.03 L92.9 434.95 L93.9 434.87 L94.9 434.79 L95.9 434.71 L96.9 434.63 L97.9 434.55 L98.9 434.48 L99.9 434.40 L100.9 434.32 L101.9 434.25 L102.9 434.18 L103.9 434.10 L104.9 434.03 L105.9 433.96 L106.9 433.89 L107.9 433.82 L108.9 433.75 L109.9 433.68 L110.9 433.61 L111.9 433.54 L112.9 433.47 L113.9 433.39 L114.9 433.32 L115.9 433.24 L116.9 433.16 L117.9 433.07 L118.9 432.99 L119.9 432.90 L120.9 432.80 L121.9 432.71 L122.9 432.61 L123.9 432.50 L124.8 432.39 L125.8 432.28 L126.8 432.17 L127.8 432.05 L128.8 431.93 L129.8 431.80 L130.8 431.68 L131.8 431.54 L132.8 431.41 L133.8 431.27 L134.8 431.13 L135.8 430.99 L136.7 430.84 L137.7 430.70 L138.7 430.54 L139.7 430.39 L140.7 430.23 L141.7 430.07 L142.7 429.91 L143.7 429.74 L144.6 429.58 L145.6 429.41 L146.6 429.23 L147.6 429.06 L148.6 428.88 L149.6 428.70 L150.6 428.52 L151.5 428.34 L152.5 428.15 L153.5 427.96 L154.5 427.77 L155.5 427.58 L156.4 427.38 L157.4 427.19 L158.4 426.99 L159.4 426.79 L160.4 426.59 L161.3 426.38 L162.3 426.17 L163.3 425.96 L164.3 425.75 L165.3 425.53 L166.2 425.31 L167.2 425.09 L168.2 424.86 L169.2 424.63 L170.1 424.39 L171.1 424.16 L172.1 423.91 L173.0 423.67 L174.0 423.41 L175.0 423.16 L175.9 422.90 L176.9 422.63 L177.9 422.36 L178.8 422.09 L179.8 421.81 L180.8 421.52 L181.7 421.23 L182.7 420.94 L183.6 420.64 L184.6 420.34 L185.5 420.03 L186.5 419.72 L187.4 419.41 L188.4 419.09 L189.3 418.77 L190.3 418.44 L191.2 418.11 L192.2 417.78 L193.1 417.44 L194.0 417.10 L195.0 416.76 L195.9 416.42 L196.9 416.07 L197.8 415.72 L198.7 415.37 L199.7 415.01 L200.6 414.65 L201.5 414.29 L202.5 413.93 L203.4 413.56 L204.3 413.20 L205.3 412.83 L206.2 412.46 L207.1 412.09 L208.0 411.71 L209.0 411.34 L209.9 410.96 L210.8 410.58 L211.8 410.20 L212.7 409.82 L213.6 409.44 L214.5 409.05 L215.5 408.67 L216.4 408.28 L217.3 407.89 L218.2 407.50 L219.1 407.11 L220.1 406.72 L221.0 406.32 L221.9 405.93 L222.8 405.53 L223.7 405.13 L224.6 404.73 L225.6 404.32 L226.5 403.92 L227.4 403.51 L228.3 403.10 L229.2 402.69 L230.1 402.27 L231.0 401.86 L231.9 401.44 L232.9 401.02 L233.8 400.60 L234.7 400.17 L235.6 399.74 L236.5 399.31 L237.4 398.88 L238.3 398.45 L239.2 398.01 L239.9 397.66" fill="none" stroke="#c8067a" stroke-width="1.5" stroke-linejoin="round"/>
<path d="M71.0 441.10 L71.8 440.49 L72.6 439.87 L73.4 439.26 L74.2 438.66 L75.0 438.06 L75.8 437.46 L76.6 436.86 L77.4 436.27 L78.2 435.68 L79.0 435.09 L79.8 434.50 L80.6 433.92 L81.4 433.34 L82.2 432.76 L83.0 432.19 L83.9 431.61 L84.7 431.04 L85.5 430.47 L86.3 429.90 L87.1 429.33 L88.0 428.77 L88.8 428.21 L89.6 427.65 L90.4 427.10 L91.3 426.55 L92.1 426.00 L93.0 425.46 L93.8 424.92 L94.6 424.39 L95.5 423.86 L96.3 423.34 L97.2 422.83 L98.1 422.32 L98.9 421.82 L99.8 421.32 L100.7 420.84 L101.5 420.36 L102.4 419.89 L103.3 419.43 L104.2 418.99 L105.1 418.55 L106.0 418.12 L106.9 417.71 L107.8 417.31 L108.7 416.92 L109.6 416.54 L110.6 416.19 L111.5 415.84 L112.5 415.52 L113.4 415.21 L114.4 414.92 L115.3 414.64 L116.3 414.39 L117.2 414.16 L118.2 413.94 L119.2 413.75 L120.2 413.58 L121.2 413.44 L122.2 413.31 L123.2 413.21 L124.2 413.12 L125.1 413.05 L126.1 412.99 L127.1 412.95 L128.1 412.91 L129.1 412.89 L130.1 412.88 L131.1 412.87 L132.1 412.86 L133.1 412.86 L134.1 412.86 L135.1 412.87 L136.1 412.87 L137.1 412.88 L138.1 412.89 L139.1 412.90 L140.1 412.91 L141.1 412.92 L142.1 412.93 L143.1 412.95 L144.1 412.96 L145.1 412.98 L146.1 412.99 L147.1 413.01 L148.1 413.02 L149.1 413.04 L150.1 413.05 L151.1 413.06 L152.1 413.08 L153.1 413.09 L154.1 413.10 L155.1 413.11 L156.1 413.12 L157.1 413.12 L158.1 413.13 L159.1 413.13 L160.1 413.13 L161.1 413.13 L162.1 413.13 L163.1 413.12 L164.1 413.11 L165.1 413.09 L166.1 413.08 L167.1 413.05 L168.1 413.03 L169.1 413.00 L170.1 412.96 L171.1 412.92 L172.1 412.88 L173.1 412.83 L174.1 412.77 L175.1 412.71 L176.1 412.64 L177.1 412.57 L178.1 412.49 L179.1 412.40 L180.1 412.31 L181.1 412.21 L182.1 412.10 L183.1 411.98 L184.1 411.86 L185.1 411.73 L186.1 411.59 L187.1 411.44 L188.1 411.28 L189.0 411.12 L190.0 410.95 L191.0 410.77 L192.0 410.59 L193.0 410.40 L194.0 410.20 L194.9 409.99 L195.9 409.78 L196.9 409.57 L197.9 409.34 L198.8 409.12 L199.8 408.88 L200.8 408.64 L201.8 408.40 L202.7 408.15 L203.7 407.89 L204.7 407.63 L205.6 407.37 L206.6 407.10 L207.6 406.83 L208.5 406.55 L209.5 406.27 L210.4 405.99 L211.4 405.70 L212.4 405.41 L213.3 405.12 L214.3 404.82 L215.2 404.52 L216.2 404.22 L217.1 403.92 L218.1 403.62 L219.0 403.31 L220.0 403.01 L220.9 402.70 L221.9 402.40 L222.8 402.09 L223.8 401.78 L224.7 401.47 L225.7 401.17 L226.6 400.86 L227.6 400.55 L228.6 400.25 L229.5 399.94 L230.5 399.64 L231.4 399.34 L232.4 399.04 L233.3 398.74 L234.3 398.44 L235.2 398.15 L236.2 397.86 L237.1 397.57 L238.1 397.29 L239.1 397.00 L239.9 396.76" fill="none" stroke="#a80a2a" stroke-width="1.5" stroke-linejoin="round"/>
<path d="M71.0 438.96 L71.8 438.31 L72.5 437.68 L73.3 437.05 L74.1 436.43 L74.9 435.82 L75.7 435.21 L76.5 434.62 L77.3 434.03 L78.1 433.45 L78.9 432.88 L79.7 432.31 L80.5 431.75 L81.4 431.20 L82.2 430.66 L83.0 430.12 L83.9 429.59 L84.7 429.06 L85.6 428.54 L86.4 428.02 L87.3 427.51 L88.2 427.00 L89.0 426.50 L89.9 425.99 L90.7 425.49 L91.6 425.00 L92.5 424.50 L93.3 424.00 L94.2 423.51 L95.1 423.02 L96.0 422.53 L96.8 422.05 L97.7 421.57 L98.6 421.10 L99.5 420.64 L100.4 420.19 L101.3 419.74 L102.2 419.32 L103.1 418.90 L104.0 418.50 L104.9 418.12 L105.8 417.76 L106.8 417.41 L107.7 417.10 L108.6 416.81 L109.6 416.54 L110.6 416.31 L111.6 416.10 L112.5 415.92 L113.5 415.75 L114.5 415.61 L115.5 415.47 L116.5 415.35 L117.5 415.23 L118.5 415.11 L119.5 415.00 L120.5 414.87 L121.4 414.74 L122.4 414.59 L123.4 414.42 L124.4 414.24 L125.4 414.03 L126.4 413.79 L127.3 413.52 L128.3 413.23 L129.2 412.92 L130.2 412.60 L131.1 412.26 L132.1 411.91 L133.0 411.55 L133.9 411.18 L134.9 410.82 L135.8 410.45 L136.7 410.09 L137.7 409.73 L138.6 409.38 L139.5 409.03 L140.5 408.70 L141.4 408.38 L142.4 408.06 L143.3 407.76 L144.3 407.46 L145.2 407.17 L146.2 406.90 L147.2 406.63 L148.1 406.37 L149.1 406.11 L150.1 405.87 L151.0 405.63 L152.0 405.40 L153.0 405.18 L154.0 404.97 L154.9 404.76 L155.9 404.56 L156.9 404.37 L157.9 404.18 L158.9 404.00 L159.8 403.83 L160.8 403.66 L161.8 403.50 L162.8 403.34 L163.8 403.19 L164.8 403.04 L165.8 402.90 L166.8 402.76 L167.7 402.62 L168.7 402.49 L169.7 402.36 L170.7 402.23 L171.7 402.11 L172.7 401.99 L173.7 401.87 L174.7 401.75 L175.7 401.64 L176.7 401.52 L177.7 401.41 L178.7 401.30 L179.7 401.19 L180.6 401.07 L181.6 400.96 L182.6 400.85 L183.6 400.74 L184.6 400.63 L185.6 400.53 L186.6 400.42 L187.6 400.31 L188.6 400.21 L189.6 400.10 L190.6 400.00 L191.6 399.89 L192.6 399.79 L193.6 399.69 L194.6 399.58 L195.6 399.48 L196.6 399.38 L197.6 399.28 L198.5 399.19 L199.5 399.09 L200.5 398.99 L201.5 398.90 L202.5 398.80 L203.5 398.71 L204.5 398.61 L205.5 398.52 L206.5 398.43 L207.5 398.34 L208.5 398.25 L209.5 398.16 L210.5 398.07 L211.5 397.98 L212.5 397.90 L213.5 397.81 L214.5 397.73 L215.5 397.65 L216.5 397.56 L217.5 397.48 L218.5 397.40 L219.5 397.32 L220.5 397.25 L221.5 397.17 L222.5 397.09 L223.5 397.02 L224.4 396.95 L225.4 396.88 L226.4 396.80 L227.4 396.73 L228.4 396.67 L229.4 396.60 L230.4 396.53 L231.4 396.47 L232.4 396.40 L233.4 396.34 L234.4 396.28 L235.4 396.22 L236.4 396.16 L237.4 396.10 L238.4 396.05 L239.4 395.99 L239.9 395.96" fill="none" stroke="#5aa83a" stroke-width="1.5" stroke-linejoin="round"/>
<path d="M70.7 432.90 L71.3 432.08 L71.8 431.25 L72.4 430.42 L73.0 429.59 L73.5 428.76 L74.1 427.92 L74.6 427.09 L75.2 426.25 L75.7 425.41 L76.3 424.57 L76.8 423.73 L77.4 422.89 L77.9 422.05 L78.4 421.21 L79.0 420.36 L79.5 419.52 L80.1 418.68 L80.6 417.83 L81.1 416.99 L81.7 416.14 L82.2 415.30 L82.7 414.46 L83.3 413.61 L83.8 412.77 L84.4 411.93 L84.9 411.09 L85.4 410.25 L86.0 409.41 L86.5 408.57 L87.1 407.73 L87.6 406.89 L88.2 406.06 L88.7 405.22 L89.3 404.39 L89.8 403.56 L90.4 402.73 L90.9 401.91 L91.5 401.08 L92.0 400.26 L92.6 399.44 L93.2 398.62 L93.8 397.81 L94.3 397.00 L94.9 396.19 L95.5 395.39 L96.1 394.59 L96.7 393.79 L97.3 393.00 L97.9 392.21 L98.5 391.43 L99.2 390.66 L99.8 389.89 L100.4 389.13 L101.1 388.38 L101.7 387.63 L102.4 386.89 L103.1 386.17 L103.8 385.45 L104.4 384.75 L105.2 384.06 L105.9 383.38 L106.6 382.71 L107.4 382.06 L108.1 381.42 L108.9 380.79 L109.7 380.18 L110.5 379.59 L111.3 379.01 L112.1 378.44 L112.9 377.88 L113.8 377.34 L114.6 376.81 L115.4 376.30 L116.3 375.80 L117.2 375.31 L118.0 374.82 L118.9 374.35 L119.8 373.89 L120.7 373.43 L121.6 372.98 L122.5 372.54 L123.4 372.09 L124.3 371.65 L125.2 371.21 L126.1 370.77 L127.0 370.32 L127.9 369.87 L128.8 369.42 L129.6 368.97 L130.5 368.51 L131.4 368.05 L132.3 367.59 L133.2 367.13 L134.1 366.67 L135.0 366.20 L135.9 365.74 L136.7 365.28 L137.6 364.82 L138.5 364.36 L139.4 363.90 L140.3 363.44 L141.2 362.99 L142.1 362.54 L143.0 362.09 L143.9 361.64 L144.8 361.19 L145.6 360.74 L146.5 360.29 L147.4 359.84 L148.3 359.39 L149.2 358.93 L150.1 358.48 L151.0 358.02 L151.9 357.56 L152.8 357.10 L153.7 356.63 L154.5 356.16 L155.4 355.69 L156.3 355.22 L157.2 354.74 L158.1 354.26 L158.9 353.78 L159.8 353.30 L160.7 352.81 L161.6 352.32 L162.4 351.83 L163.3 351.33 L164.2 350.83 L165.0 350.33 L165.9 349.83 L166.8 349.32 L167.6 348.82 L168.5 348.30 L169.4 347.79 L170.2 347.27 L171.1 346.75 L171.9 346.23 L172.8 345.71 L173.6 345.18 L174.5 344.65 L175.3 344.12 L176.2 343.58 L177.0 343.04 L177.9 342.50 L178.7 341.96 L179.5 341.41 L180.4 340.86 L181.2 340.31 L182.0 339.76 L182.9 339.20 L183.7 338.64 L184.5 338.08 L185.4 337.51 L186.2 336.94 L187.0 336.37 L187.8 335.80 L188.6 335.23 L189.5 334.65 L190.3 334.07 L191.1 333.48 L191.9 332.90 L192.7 332.31 L193.5 331.72 L194.3 331.12 L195.1 330.53 L195.9 329.93 L196.7 329.32 L197.5 328.72 L198.3 328.11 L199.1 327.50 L199.9 326.89 L200.7 326.28 L201.5 325.66 L202.3 325.04 L203.1 324.42 L203.8 323.80 L204.6 323.17 L205.4 322.54 L206.2 321.91 L207.0 321.27 L207.7 320.64 L208.5 320.00 L209.3 319.36 L210.0 318.71 L210.8 318.07 L211.6 317.42 L212.3 316.77 L213.1 316.12 L213.8 315.46 L214.6 314.80 L215.4 314.14 L216.1 313.48 L216.9 312.82 L217.6 312.15 L218.3 311.48 L219.1 310.81 L219.8 310.14 L220.6 309.46 L221.3 308.78 L222.0 308.10 L222.8 307.42 L223.5 306.74 L224.2 306.05 L225.0 305.36 L225.7 304.67 L226.4 303.98 L227.1 303.28 L227.8 302.59 L228.6 301.89 L229.3 301.19 L230.0 300.48 L230.7 299.78 L231.4 299.07 L232.1 298.36 L232.8 297.65 L233.5 296.94 L234.2 296.22 L234.9 295.51 L235.6 294.79 L236.3 294.07 L237.0 293.35 L237.7 292.62 L238.4 291.90 L239.1 291.17 L239.8 290.44 L240.1 290.09" fill="none" stroke="#203e7a" stroke-width="1.5" stroke-linejoin="round"/>
<text x="225.55" y="286.70" font-size="8.7" fill="#3d5f99" stroke="#3d5f99" stroke-width="0.2" textLength="21.75" lengthAdjust="spacingAndGlyphs">CD4+</text>
<text x="210.90" y="392.20" font-size="8.7" fill="#6ab450" stroke="#6ab450" stroke-width="0.2" textLength="34.90" lengthAdjust="spacingAndGlyphs">EM CD4+</text>
<text x="105.75" y="408.30" font-size="8.7" fill="#b52345" stroke="#b52345" stroke-width="0.2" textLength="36.35" lengthAdjust="spacingAndGlyphs">CM CD4+</text>
<text x="203.90" y="422.30" font-size="8.7" fill="#d0208a" stroke="#d0208a" stroke-width="0.2" textLength="41.90" lengthAdjust="spacingAndGlyphs">Na&#239;ve CD4+</text>
<text x="196.10" y="440.30" font-size="8.7" fill="#5f3580" stroke="#5f3580" stroke-width="0.2" textLength="49.70" lengthAdjust="spacingAndGlyphs">Effector CD4+</text>
<path d="M335.0 441.89 L336.0 441.88 L337.0 441.86 L338.0 441.85 L339.0 441.83 L340.0 441.82 L341.0 441.80 L342.0 441.79 L343.0 441.77 L344.0 441.75 L345.0 441.73 L346.0 441.71 L347.0 441.69 L348.0 441.67 L349.0 441.65 L350.0 441.63 L351.0 441.61 L352.0 441.59 L353.0 441.56 L354.0 441.54 L355.0 441.52 L356.0 441.49 L357.0 441.47 L358.0 441.44 L359.0 441.42 L360.0 441.39 L361.0 441.36 L362.0 441.34 L363.0 441.31 L364.0 441.28 L365.0 441.26 L366.0 441.23 L367.0 441.20 L368.0 441.17 L369.0 441.14 L370.0 441.11 L371.0 441.08 L372.0 441.05 L373.0 441.02 L374.0 440.99 L375.0 440.96 L376.0 440.93 L377.0 440.90 L378.0 440.87 L379.0 440.84 L380.0 440.81 L381.0 440.78 L382.0 440.74 L383.0 440.71 L384.0 440.68 L385.0 440.65 L386.0 440.61 L387.0 440.58 L388.0 440.55 L389.0 440.51 L390.0 440.48 L391.0 440.45 L392.0 440.41 L393.0 440.38 L394.0 440.35 L395.0 440.31 L396.0 440.28 L397.0 440.25 L398.0 440.21 L399.0 440.18 L400.0 440.14 L401.0 440.11 L402.0 440.08 L403.0 440.04 L404.0 440.01 L405.0 439.97 L406.0 439.94 L407.0 439.91 L408.0 439.87 L409.0 439.84 L410.0 439.81 L411.0 439.77 L412.0 439.74 L413.0 439.71 L414.0 439.67 L415.0 439.64 L416.0 439.61 L417.0 439.57 L418.0 439.54 L419.0 439.51 L420.0 439.48 L421.0 439.44 L422.0 439.41 L423.0 439.38 L424.0 439.35 L425.0 439.32 L426.0 439.29 L427.0 439.25 L428.0 439.22 L429.0 439.19 L430.0 439.16 L431.0 439.13 L432.0 439.10 L433.0 439.07 L434.0 439.04 L435.0 439.02 L436.0 438.99 L437.0 438.96 L438.0 438.93 L439.0 438.90 L440.0 438.88 L441.0 438.85 L442.0 438.82 L443.0 438.80 L444.0 438.77 L445.0 438.75 L446.0 438.72 L447.0 438.70 L448.0 438.67 L449.0 438.65 L450.0 438.63 L451.0 438.61 L452.0 438.58 L453.0 438.56 L454.0 438.54 L455.0 438.52 L456.0 438.50 L457.0 438.48 L458.0 438.46 L459.0 438.44 L459.9 438.43 L460.9 438.41 L461.9 438.39 L462.9 438.38 L463.9 438.36 L464.9 438.34 L465.9 438.33 L466.9 438.32 L467.9 438.30 L468.9 438.29 L469.9 438.28 L470.9 438.27 L471.9 438.26 L472.9 438.25 L473.9 438.24 L474.9 438.23 L475.9 438.22 L476.9 438.21 L477.9 438.21 L478.9 438.20 L479.9 438.20 L480.9 438.19 L481.9 438.19 L482.9 438.18 L483.9 438.18 L484.9 438.18 L485.9 438.18 L486.9 438.18 L487.9 438.18 L488.9 438.18 L489.9 438.19 L490.9 438.19 L491.9 438.20 L492.9 438.20 L493.9 438.21 L494.9 438.21 L495.9 438.22 L496.9 438.23 L497.9 438.24 L498.9 438.25 L499.9 438.26 L500.9 438.28 L501.9 438.29 L502.9 438.30 L503.9 438.32 L504.4 438.33" fill="none" stroke="#a80a2a" stroke-width="1.5" stroke-linejoin="round"/>
<path d="M335.0 440.90 L336.0 440.88 L337.0 440.86 L338.0 440.83 L339.0 440.81 L340.0 440.79 L341.0 440.76 L342.0 440.74 L343.0 440.71 L344.0 440.68 L345.0 440.66 L346.0 440.63 L347.0 440.60 L348.0 440.56 L349.0 440.53 L350.0 440.50 L351.0 440.46 L352.0 440.42 L353.0 440.39 L354.0 440.35 L355.0 440.30 L356.0 440.26 L357.0 440.22 L358.0 440.17 L359.0 440.12 L360.0 440.07 L361.0 440.02 L362.0 439.97 L363.0 439.91 L364.0 439.85 L365.0 439.79 L366.0 439.73 L367.0 439.67 L368.0 439.60 L369.0 439.53 L370.0 439.46 L371.0 439.39 L372.0 439.31 L373.0 439.23 L374.0 439.15 L375.0 439.07 L375.9 438.98 L376.9 438.90 L377.9 438.80 L378.9 438.71 L379.9 438.61 L380.9 438.52 L381.9 438.41 L382.9 438.31 L383.9 438.20 L384.9 438.09 L385.9 437.98 L386.9 437.86 L387.9 437.74 L388.9 437.62 L389.9 437.50 L390.9 437.37 L391.9 437.24 L392.8 437.11 L393.8 436.98 L394.8 436.84 L395.8 436.70 L396.8 436.56 L397.8 436.42 L398.8 436.27 L399.8 436.13 L400.8 435.98 L401.8 435.83 L402.7 435.67 L403.7 435.52 L404.7 435.36 L405.7 435.20 L406.7 435.04 L407.7 434.88 L408.7 434.71 L409.7 434.55 L410.6 434.38 L411.6 434.21 L412.6 434.04 L413.6 433.87 L414.6 433.70 L415.6 433.52 L416.6 433.35 L417.5 433.17 L418.5 432.99 L419.5 432.81 L420.5 432.63 L421.5 432.45 L422.5 432.27 L423.4 432.08 L424.4 431.90 L425.4 431.71 L426.4 431.52 L427.4 431.33 L428.3 431.15 L429.3 430.96 L430.3 430.77 L431.3 430.57 L432.3 430.38 L433.3 430.19 L434.2 430.00 L435.2 429.80 L436.2 429.61 L437.2 429.41 L438.2 429.22 L439.1 429.02 L440.1 428.83 L441.1 428.63 L442.1 428.43 L443.1 428.23 L444.0 428.04 L445.0 427.84 L446.0 427.64 L447.0 427.44 L448.0 427.23 L448.9 427.03 L449.9 426.83 L450.9 426.63 L451.9 426.42 L452.9 426.22 L453.8 426.01 L454.8 425.80 L455.8 425.60 L456.8 425.39 L457.8 425.18 L458.7 424.97 L459.7 424.76 L460.7 424.55 L461.7 424.34 L462.6 424.12 L463.6 423.91 L464.6 423.69 L465.6 423.48 L466.5 423.26 L467.5 423.04 L468.5 422.83 L469.5 422.61 L470.4 422.39 L471.4 422.17 L472.4 421.94 L473.4 421.72 L474.3 421.50 L475.3 421.27 L476.3 421.05 L477.3 420.82 L478.2 420.60 L479.2 420.37 L480.2 420.14 L481.2 419.91 L482.1 419.68 L483.1 419.45 L484.1 419.22 L485.1 418.99 L486.0 418.76 L487.0 418.53 L488.0 418.30 L489.0 418.06 L489.9 417.83 L490.9 417.60 L491.9 417.36 L492.8 417.13 L493.8 416.89 L494.8 416.65 L495.8 416.42 L496.7 416.18 L497.7 415.94 L498.7 415.71 L499.6 415.47 L500.6 415.23 L501.6 414.99 L502.6 414.76 L503.5 414.52 L504.5 414.28 L504.6 414.25" fill="none" stroke="#c8067a" stroke-width="1.5" stroke-linejoin="round"/>
<path d="M335.0 435.23 L335.9 435.57 L336.9 435.89 L337.8 436.20 L338.8 436.49 L339.7 436.75 L340.7 436.99 L341.7 437.22 L342.7 437.41 L343.6 437.59 L344.6 437.73 L345.6 437.85 L346.6 437.95 L347.6 438.01 L348.6 438.04 L349.6 438.05 L350.6 438.02 L351.6 437.97 L352.6 437.88 L353.6 437.77 L354.6 437.63 L355.6 437.46 L356.6 437.26 L357.5 437.04 L358.5 436.79 L359.5 436.51 L360.4 436.22 L361.4 435.90 L362.3 435.55 L363.3 435.19 L364.2 434.80 L365.1 434.40 L366.0 433.99 L366.9 433.55 L367.8 433.11 L368.7 432.65 L369.6 432.18 L370.5 431.70 L371.4 431.22 L372.2 430.72 L373.1 430.22 L374.0 429.71 L374.8 429.20 L375.7 428.68 L376.5 428.15 L377.4 427.63 L378.2 427.10 L379.1 426.57 L379.9 426.04 L380.8 425.50 L381.6 424.97 L382.5 424.44 L383.3 423.91 L384.2 423.38 L385.0 422.85 L385.9 422.32 L386.7 421.80 L387.6 421.28 L388.4 420.76 L389.3 420.24 L390.1 419.72 L391.0 419.21 L391.9 418.70 L392.7 418.19 L393.6 417.69 L394.4 417.19 L395.3 416.69 L396.2 416.20 L397.0 415.71 L397.9 415.22 L398.8 414.74 L399.7 414.27 L400.6 413.80 L401.4 413.33 L402.3 412.88 L403.2 412.42 L404.1 411.98 L405.0 411.54 L405.9 411.12 L406.8 410.70 L407.7 410.30 L408.6 409.91 L409.6 409.53 L410.5 409.16 L411.4 408.81 L412.4 408.48 L413.3 408.17 L414.3 407.87 L415.2 407.60 L416.2 407.35 L417.2 407.12 L418.1 406.92 L419.1 406.75 L420.1 406.60 L421.1 406.49 L422.1 406.40 L423.1 406.34 L424.1 406.30 L425.1 406.28 L426.1 406.29 L427.1 406.32 L428.1 406.36 L429.1 406.42 L430.1 406.50 L431.1 406.59 L432.1 406.69 L433.1 406.79 L434.1 406.91 L435.1 407.03 L436.0 407.16 L437.0 407.29 L438.0 407.43 L439.0 407.56 L440.0 407.69 L441.0 407.82 L442.0 407.96 L443.0 408.09 L444.0 408.22 L445.0 408.36 L446.0 408.49 L447.0 408.63 L447.9 408.76 L448.9 408.90 L449.9 409.04 L450.9 409.17 L451.9 409.31 L452.9 409.45 L453.9 409.59 L454.9 409.72 L455.9 409.86 L456.9 410.00 L457.8 410.14 L458.8 410.28 L459.8 410.42 L460.8 410.57 L461.8 410.71 L462.8 410.85 L463.8 410.99 L464.8 411.14 L465.8 411.28 L466.8 411.43 L467.7 411.57 L468.7 411.72 L469.7 411.87 L470.7 412.02 L471.7 412.17 L472.7 412.32 L473.7 412.47 L474.7 412.62 L475.7 412.77 L476.6 412.93 L477.6 413.08 L478.6 413.24 L479.6 413.40 L480.6 413.56 L481.6 413.72 L482.6 413.88 L483.6 414.04 L484.5 414.21 L485.5 414.37 L486.5 414.54 L487.5 414.70 L488.5 414.86 L489.5 415.02 L490.5 415.18 L491.4 415.33 L492.4 415.47 L493.4 415.61 L494.4 415.75 L495.4 415.87 L496.4 415.99 L497.4 416.09 L498.4 416.19 L499.4 416.28 L500.4 416.35 L501.4 416.41 L502.4 416.45 L503.4 416.48 L504.2 416.49" fill="none" stroke="#5aa83a" stroke-width="1.5" stroke-linejoin="round"/>
<path d="M335.0 437.16 L335.9 437.53 L336.9 437.87 L337.8 438.18 L338.8 438.46 L339.7 438.70 L340.7 438.91 L341.7 439.07 L342.7 439.20 L343.7 439.28 L344.7 439.33 L345.7 439.33 L346.7 439.29 L347.7 439.20 L348.6 439.08 L349.6 438.91 L350.6 438.70 L351.6 438.45 L352.6 438.16 L353.5 437.84 L354.5 437.48 L355.4 437.08 L356.3 436.65 L357.2 436.20 L358.1 435.71 L358.9 435.20 L359.8 434.67 L360.6 434.11 L361.5 433.53 L362.3 432.93 L363.1 432.31 L363.9 431.67 L364.6 431.02 L365.4 430.36 L366.1 429.68 L366.9 428.99 L367.6 428.30 L368.3 427.59 L369.0 426.88 L369.7 426.16 L370.4 425.44 L371.1 424.71 L371.8 423.97 L372.5 423.23 L373.1 422.49 L373.8 421.74 L374.5 420.99 L375.1 420.23 L375.8 419.47 L376.4 418.71 L377.1 417.95 L377.7 417.19 L378.4 416.43 L379.0 415.66 L379.7 414.89 L380.3 414.13 L381.0 413.36 L381.6 412.59 L382.2 411.83 L382.9 411.06 L383.5 410.30 L384.2 409.53 L384.8 408.76 L385.5 407.99 L386.1 407.23 L386.7 406.46 L387.4 405.69 L388.0 404.91 L388.7 404.14 L389.3 403.37 L389.9 402.59 L390.5 401.81 L391.2 401.03 L391.8 400.24 L392.4 399.45 L393.0 398.66 L393.6 397.87 L394.3 397.07 L394.9 396.27 L395.5 395.47 L396.1 394.67 L396.7 393.86 L397.3 393.05 L397.8 392.23 L398.4 391.41 L399.0 390.59 L399.6 389.76 L400.1 388.93 L400.7 388.10 L401.2 387.26 L401.8 386.43 L402.3 385.58 L402.9 384.74 L403.4 383.89 L404.0 383.03 L404.5 382.18 L405.0 381.32 L405.5 380.46 L406.0 379.60 L406.5 378.74 L407.1 377.88 L407.6 377.03 L408.1 376.18 L408.6 375.33 L409.1 374.49 L409.7 373.66 L410.2 372.84 L410.8 372.02 L411.4 371.21 L411.9 370.41 L412.5 369.61 L413.1 368.81 L413.7 368.02 L414.3 367.23 L414.9 366.43 L415.6 365.64 L416.2 364.84 L416.8 364.03 L417.4 363.22 L417.9 362.41 L418.5 361.59 L419.1 360.77 L419.7 359.95 L420.3 359.13 L420.8 358.30 L421.4 357.48 L422.0 356.65 L422.5 355.83 L423.1 355.00 L423.7 354.18 L424.2 353.36 L424.8 352.55 L425.4 351.73 L426.0 350.92 L426.5 350.12 L427.1 349.32 L427.7 348.52 L428.3 347.73 L428.9 346.95 L429.6 346.17 L430.2 345.39 L430.8 344.62 L431.4 343.86 L432.1 343.10 L432.7 342.36 L433.4 341.61 L434.1 340.88 L434.8 340.15 L435.4 339.44 L436.1 338.73 L436.8 338.03 L437.6 337.34 L438.3 336.67 L439.0 336.00 L439.8 335.35 L440.5 334.71 L441.3 334.08 L442.1 333.47 L442.9 332.88 L443.7 332.30 L444.5 331.74 L445.3 331.21 L446.2 330.69 L447.0 330.20 L447.9 329.73 L448.8 329.29 L449.7 328.88 L450.6 328.49 L451.6 328.15 L452.5 327.83 L453.5 327.55 L454.4 327.31 L455.4 327.11 L456.4 326.96 L457.4 326.85 L458.4 326.78 L459.4 326.76 L460.4 326.79 L461.4 326.86 L462.4 326.99 L463.4 327.16 L464.3 327.37 L465.3 327.63 L466.3 327.94 L467.2 328.28 L468.1 328.66 L469.1 329.08 L470.0 329.54 L470.8 330.02 L471.7 330.54 L472.6 331.08 L473.4 331.65 L474.2 332.24 L475.0 332.85 L475.8 333.47 L476.6 334.11 L477.4 334.77 L478.1 335.43 L478.9 336.11 L479.6 336.79 L480.3 337.49 L481.0 338.19 L481.8 338.90 L482.5 339.62 L483.2 340.35 L483.8 341.07 L484.5 341.81 L485.2 342.55 L485.9 343.29 L486.6 344.03 L487.2 344.78 L487.9 345.53 L488.5 346.29 L489.2 347.04 L489.9 347.80 L490.5 348.56 L491.2 349.32 L491.8 350.08 L492.5 350.85 L493.1 351.61 L493.8 352.37 L494.4 353.13 L495.0 353.90 L495.7 354.67 L496.3 355.46 L497.0 356.25 L497.6 357.05 L498.2 357.86 L498.8 358.69 L499.3 359.53 L499.9 360.38 L500.4 361.24 L500.9 362.12 L501.4 363.00 L501.9 363.90 L502.4 364.80 L502.8 365.71 L503.3 366.63 L503.7 367.55 L504.1 368.48 L504.5 369.39" fill="none" stroke="#4c1a66" stroke-width="1.5" stroke-linejoin="round"/>
<path d="M335.0 428.80 L335.9 429.26 L336.8 429.70 L337.7 430.12 L338.6 430.52 L339.5 430.89 L340.4 431.24 L341.4 431.56 L342.3 431.84 L343.3 432.08 L344.3 432.28 L345.3 432.44 L346.3 432.53 L347.3 432.57 L348.3 432.55 L349.2 432.47 L350.2 432.31 L351.2 432.09 L352.2 431.80 L353.1 431.45 L354.1 431.03 L355.0 430.56 L355.8 430.04 L356.7 429.46 L357.5 428.85 L358.3 428.20 L359.0 427.52 L359.8 426.82 L360.5 426.10 L361.2 425.36 L361.8 424.61 L362.5 423.84 L363.1 423.06 L363.8 422.27 L364.4 421.47 L365.0 420.66 L365.6 419.85 L366.2 419.03 L366.8 418.21 L367.3 417.38 L367.9 416.54 L368.4 415.70 L369.0 414.86 L369.5 414.02 L370.1 413.17 L370.6 412.32 L371.1 411.47 L371.7 410.61 L372.2 409.75 L372.7 408.90 L373.2 408.03 L373.7 407.17 L374.2 406.31 L374.7 405.44 L375.3 404.58 L375.8 403.71 L376.2 402.84 L376.7 401.96 L377.2 401.09 L377.7 400.22 L378.2 399.34 L378.7 398.46 L379.2 397.58 L379.7 396.70 L380.1 395.82 L380.6 394.94 L381.1 394.06 L381.6 393.17 L382.0 392.29 L382.5 391.40 L383.0 390.51 L383.4 389.63 L383.9 388.74 L384.3 387.85 L384.8 386.95 L385.3 386.06 L385.7 385.17 L386.2 384.28 L386.6 383.38 L387.1 382.49 L387.5 381.59 L388.0 380.69 L388.4 379.79 L388.8 378.90 L389.3 378.00 L389.7 377.10 L390.2 376.20 L390.6 375.29 L391.0 374.39 L391.5 373.49 L391.9 372.59 L392.3 371.68 L392.8 370.78 L393.2 369.87 L393.6 368.97 L394.1 368.06 L394.5 367.15 L394.9 366.24 L395.3 365.34 L395.7 364.43 L396.2 363.51 L396.6 362.60 L397.0 361.69 L397.4 360.77 L397.8 359.86 L398.2 358.94 L398.6 358.02 L399.0 357.10 L399.4 356.18 L399.8 355.26 L400.2 354.33 L400.6 353.41 L401.0 352.48 L401.4 351.56 L401.7 350.63 L402.1 349.70 L402.5 348.77 L402.9 347.85 L403.3 346.92 L403.6 345.99 L404.0 345.06 L404.4 344.14 L404.8 343.21 L405.1 342.29 L405.5 341.36 L405.9 340.44 L406.3 339.51 L406.6 338.59 L407.0 337.67 L407.4 336.75 L407.8 335.83 L408.2 334.92 L408.6 334.00 L409.0 333.09 L409.4 332.18 L409.8 331.27 L410.2 330.37 L410.6 329.47 L411.0 328.57 L411.5 327.68 L411.9 326.79 L412.4 325.91 L412.8 325.03 L413.3 324.16 L413.8 323.30 L414.3 322.44 L414.8 321.58 L415.3 320.73 L415.8 319.88 L416.3 319.04 L416.8 318.19 L417.4 317.36 L417.9 316.52 L418.5 315.69 L419.0 314.86 L419.6 314.02 L420.1 313.19 L420.7 312.35 L421.2 311.51 L421.8 310.67 L422.3 309.83 L422.8 308.99 L423.4 308.15 L423.9 307.31 L424.5 306.46 L425.0 305.62 L425.5 304.78 L426.1 303.94 L426.6 303.10 L427.2 302.27 L427.7 301.43 L428.3 300.60 L428.8 299.77 L429.4 298.94 L429.9 298.11 L430.5 297.29 L431.1 296.47 L431.6 295.66 L432.2 294.85 L432.8 294.04 L433.4 293.24 L434.0 292.45 L434.6 291.66 L435.2 290.88 L435.8 290.11 L436.4 289.34 L437.1 288.59 L437.7 287.84 L438.4 287.10 L439.1 286.37 L439.8 285.66 L440.5 284.95 L441.2 284.26 L441.9 283.58 L442.6 282.91 L443.4 282.26 L444.1 281.62 L444.9 281.00 L445.7 280.40 L446.5 279.82 L447.3 279.26 L448.1 278.72 L449.0 278.20 L449.8 277.71 L450.7 277.25 L451.6 276.81 L452.5 276.40 L453.4 276.03 L454.4 275.69 L455.3 275.39 L456.3 275.12 L457.2 274.89 L458.2 274.71 L459.2 274.56 L460.2 274.46 L461.2 274.40 L462.2 274.38 L463.2 274.41 L464.2 274.48 L465.2 274.60 L466.2 274.75 L467.2 274.95 L468.1 275.19 L469.1 275.46 L470.1 275.77 L471.0 276.11 L472.0 276.48 L472.9 276.89 L473.8 277.32 L474.7 277.77 L475.6 278.25 L476.4 278.75 L477.3 279.28 L478.1 279.82 L479.0 280.38 L479.8 280.96 L480.6 281.55 L481.4 282.16 L482.2 282.78 L483.0 283.41 L483.8 284.06 L484.5 284.71 L485.3 285.38 L486.0 286.06 L486.8 286.75 L487.5 287.44 L488.2 288.15 L488.9 288.86 L489.6 289.58 L490.3 290.31 L491.0 291.05 L491.7 291.80 L492.3 292.56 L493.0 293.33 L493.6 294.10 L494.3 294.89 L494.9 295.68 L495.5 296.48 L496.1 297.29 L496.7 298.11 L497.3 298.94 L497.8 299.77 L498.4 300.61 L498.9 301.46 L499.5 302.31 L500.0 303.17 L500.5 304.04 L501.0 304.91 L501.5 305.78 L502.0 306.66 L502.5 307.55 L503.0 308.44 L503.5 309.33 L503.9 310.23 L504.4 311.13 L504.5 311.40" fill="none" stroke="#203e7a" stroke-width="1.5" stroke-linejoin="round"/>
<text x="489.95" y="321.50" font-size="8.7" fill="#3d5f99" stroke="#3d5f99" stroke-width="0.2" textLength="21.95" lengthAdjust="spacingAndGlyphs">CD8+</text>
<text x="460.90" y="379.60" font-size="8.7" fill="#5f3580" stroke="#5f3580" stroke-width="0.2" textLength="50.10" lengthAdjust="spacingAndGlyphs">Effector CD8+</text>
<text x="416.10" y="402.10" font-size="8.7" fill="#6ab450" stroke="#6ab450" stroke-width="0.2" textLength="34.60" lengthAdjust="spacingAndGlyphs">EM CD8+</text>
<text x="404.40" y="426.50" font-size="8.7" fill="#d0208a" stroke="#d0208a" stroke-width="0.2" textLength="41.90" lengthAdjust="spacingAndGlyphs">Na&#239;ve CD8+</text>
<text x="475.35" y="434.70" font-size="8.7" fill="#b52345" stroke="#b52345" stroke-width="0.2" textLength="35.35" lengthAdjust="spacingAndGlyphs">CM CD8+</text>
</svg>
</body></html>
